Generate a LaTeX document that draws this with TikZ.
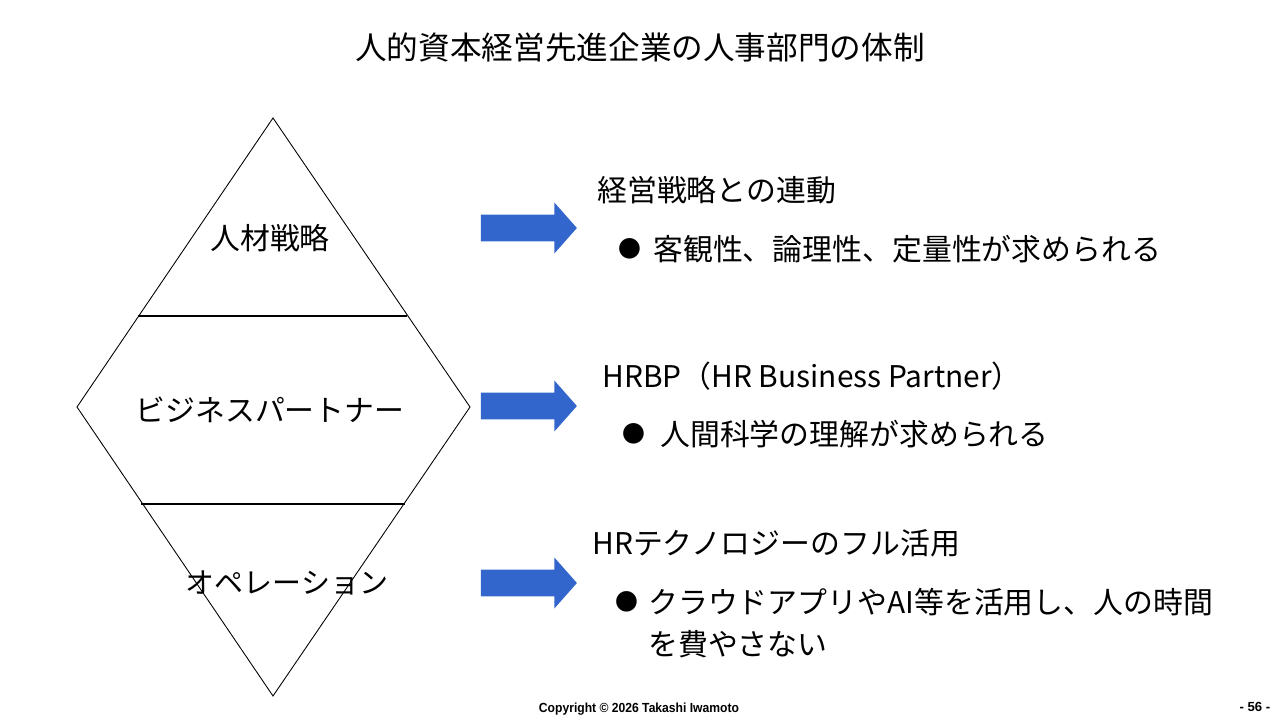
\documentclass[tikz,border=0pt]{standalone}
\usepackage{fontspec}
\setmainfont{Noto Sans CJK JP}
\newfontfamily\footfont{Liberation Sans}
\usepackage{tikz}
\usetikzlibrary{shapes.arrows, positioning}
\definecolor{arrowblue}{RGB}{51,102,204}

\begin{document}
\begin{tikzpicture}[x=0.2mm,y=-0.2mm,
        every node/.style={inner sep=0pt},
        title/.style={font=\fontsize{18}{22}\selectfont},
        layer/.style={font=\fontsize{17}{20}\selectfont},
        heading/.style={anchor=west,font=\fontsize{17}{20}\selectfont},
        item/.style={anchor=west,align=left,font=\fontsize{17}{24}\selectfont},
        dot/.style={anchor=west,font=\fontsize{13}{16}\selectfont},
        bigarrow/.style={single arrow,fill=arrowblue,draw=none,minimum height=19.2mm,
          text height=2.6mm,text depth=2.6mm,single arrow head extend=2.4mm,
          single arrow tip angle=97}]
    \useasboundingbox (0,0) rectangle (1280,720);

      \node[title] (title) at (640,47) {人的資本経営先進企業の人事部門の体制};

      % diamond
      \coordinate (top)    at (273,118);
      \coordinate (right)  at (470,407);
      \coordinate (bottom) at (273,696);
      \coordinate (left)   at (77,407);
      \draw[line width=0.5pt] (top) -- (right) -- (bottom) -- (left) -- cycle;
      \draw[line width=0.7pt] (138,316) -- (407,316);
      \draw[line width=0.7pt] (141,504) -- (405,504);

      \node[layer] (strategy)  at (270,238) {人材戦略};
      \node[layer] (partner)   at (270,410) {ビジネスパートナー};
      \node[layer, font=\fontsize{16.5}{20}\selectfont] (operation) at (287,583) {オペレーション};

      % arrows
      \node[bigarrow] (arrow1) at (523,228) {};
      \node[bigarrow] (arrow2) at (523,406) {};
      \node[bigarrow] (arrow3) at (523,583) {};

      \node[heading] (head1) at (597,190) {経営戦略との連動};
      \node[dot]     (dot1)  at (618,249) {●};
      \node[item]    (item1) at (653,249) {客観性、論理性、定量性が求められる};

      \node[heading] (head2) at (602,376) {HRBP（HR Business Partner）};
      \node[dot]     (dot2)  at (622,434) {●};
      \node[item]    (item2) at (660,434) {人間科学の理解が求められる};

      \node[heading] (head3) at (592,543) {HRテクノロジーのフル活用};
      \node[dot]     (dot3)  at (615,602) {●};
      \node[item]    (item3) at (648,623) {クラウドアプリやAI等を活用し、人の時間\\を費やさない};

      \node[font=\footfont\bfseries\fontsize{7.5}{8}\selectfont] (copy) at (639,709)
        {\scalebox{0.92}[1]{Copyright © 2026 Takashi Iwamoto}};
      \node[font=\footfont\bfseries\fontsize{7.5}{8}\selectfont] (page) at (1255,707) {- 56 -};
    \end{tikzpicture}
\end{document}
